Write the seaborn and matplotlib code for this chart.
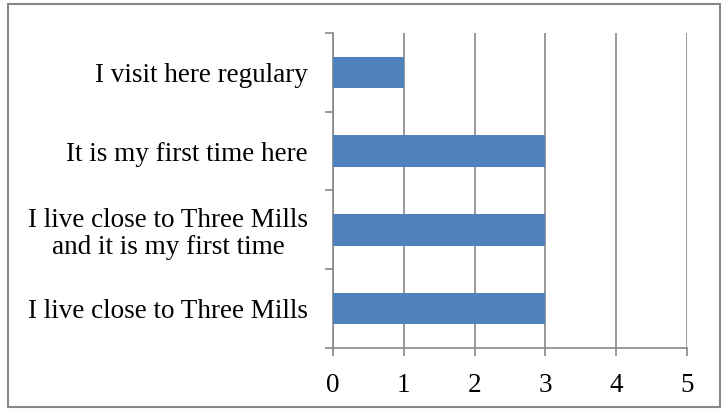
import matplotlib
matplotlib.use("Agg")
import matplotlib.pyplot as plt
import seaborn as sns
import pandas as pd
from matplotlib.patches import Rectangle
from matplotlib.ticker import FixedLocator

sns.set_style("white")
plt.rcParams['font.family'] = ['Liberation Serif', 'DejaVu Serif']

# 응답 항목 (위에서 아래 순서)
categories = [
    "I visit here regulary",
    "It is my first time here",
    "I live close to Three Mills\nand it is my first time",
    "I live close to Three Mills",
]
counts = [1, 3, 3, 3]
xticks = [0, 1, 2, 3, 4, 5]

df = pd.DataFrame({"answer": categories, "count": counts})

GRAY = "#878787"
BLUE = "#4F81BD"
FS = 19.5

fig = plt.figure(figsize=(7.24, 4.11), dpi=100)
ax = fig.add_axes([0.46, 0.153, 0.489, 0.767])

sns.barplot(data=df, x="count", y="answer", orient="h", color=BLUE,
            width=0.4, saturation=1, edgecolor="none", ax=ax, zorder=3)

ax.set_xlim(0, 5)
ax.set_ylim(3.5, -0.5)
ax.set_xticks(xticks)
ax.set_xlabel("")
ax.set_ylabel("")
ax.grid(True, axis="x", color=GRAY, linewidth=1.2, zorder=0)

for s in ["top", "right"]:
    ax.spines[s].set_visible(False)
for s in ["left", "bottom"]:
    ax.spines[s].set_color(GRAY)
    ax.spines[s].set_linewidth(1.2)

ax.tick_params(axis="x", length=6, width=1.2, color=GRAY, pad=12,
               labelsize=FS, labelcolor="black", direction="out", bottom=True)
ax.tick_params(axis="y", which="major", length=0, pad=18, labelsize=FS,
               labelcolor="black")
ax.yaxis.set_minor_locator(FixedLocator([-0.5, 0.5, 1.5, 2.5, 3.5]))
ax.tick_params(axis="y", which="minor", length=6, width=1.2, color=GRAY,
               direction="out", left=True)
for lab in ax.get_yticklabels():
    lab.set_horizontalalignment("right")
    lab.set_multialignment("center")
    lab.set_linespacing(1.1)

# 바깥 테두리
fig.patches.append(Rectangle((8 / 724, 4 / 411), 712 / 724, 403 / 411,
                             transform=fig.transFigure, fill=False,
                             edgecolor=GRAY, linewidth=1.5))

fig.savefig("out.png", dpi=100)
